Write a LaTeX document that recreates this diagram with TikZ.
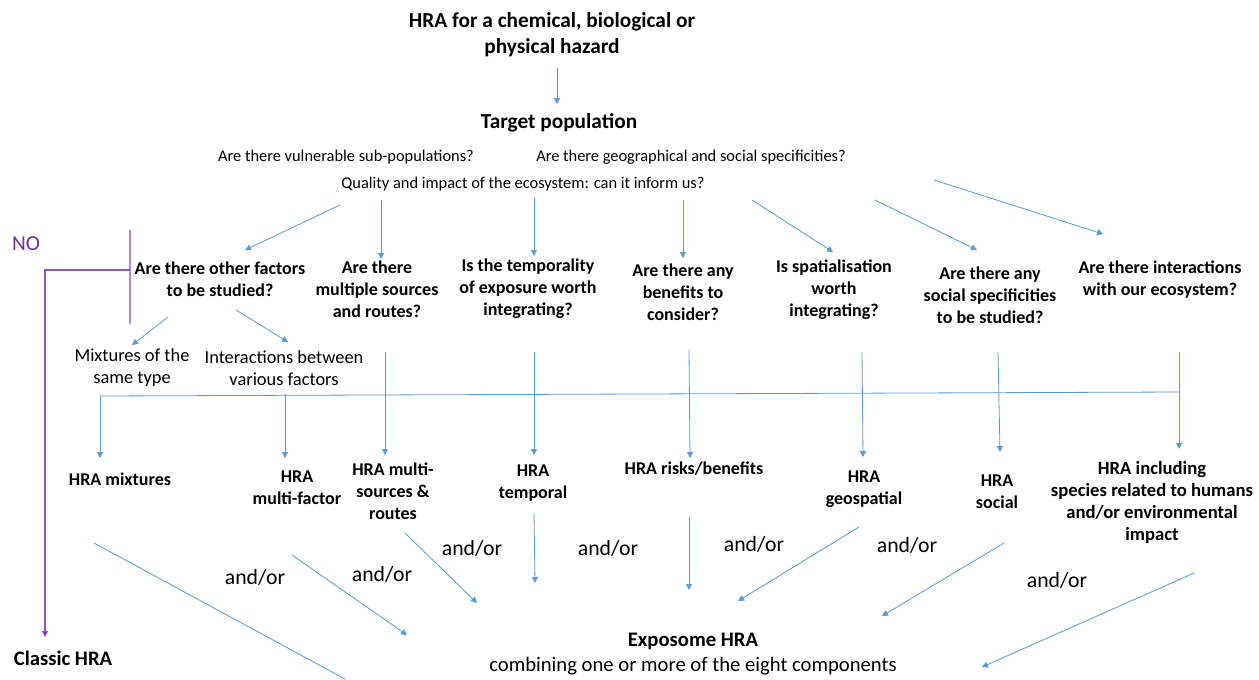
\documentclass[tikz,border=0pt]{standalone}
\usepackage{fontspec}
\setmainfont{Carlito}
\usetikzlibrary{arrows.meta}
\definecolor{arrc}{HTML}{5B9BD5}
\definecolor{purp}{HTML}{7030A0}
\definecolor{purpm}{HTML}{8E55C4}
\definecolor{purpl}{HTML}{B48AD6}
\begin{document}
\begin{tikzpicture}[x=0.75pt,y=-0.75pt,
 every node/.style={inner sep=0pt, align=center, text=black},
 ttl/.style={font=\fontsize{16}{19.5}\selectfont\bfseries},
 qq/.style={font=\fontsize{13.5}{16.5}\selectfont\bfseries},
 sm/.style={font=\fontsize{12.3}{14}\selectfont},
 sub/.style={font=\fontsize{13.8}{16.5}\selectfont},
 andor/.style={font=\fontsize{16.3}{19}\selectfont},
 expo/.style={font=\fontsize{15.5}{19}\selectfont},
 tip/.style={-{Triangle[width=4.5pt,length=4.5pt]}},
 ln/.style={draw=arrc, line width=0.6pt},
 arw/.style={ln, tip},
]
\useasboundingbox (0,0) rectangle (1259,679);

% ---------- texts ----------
\node[ttl] (title) at (552,35) {HRA for a chemical, biological or\\physical hazard};
\node[ttl] (target) at (559,123) {Target population};
\node[sm] (vuln) at (346,157) {Are there vulnerable sub-populations?};
\node[sm] (geo) at (691,157) {Are there geographical and social specificities?};
\node[sm] (qual) at (523,184) {Quality and impact of the ecosystem: can it inform us?};

\node[qq] (q1) at (220,279) {Are there other factors\\to be studied?};
\node[qq] (q2) at (377,289) {Are there\\multiple sources\\and routes?};
\node[qq] (q3) at (528,289) {Is the temporality\\of exposure worth\\integrating?};
\node[qq] (q4) at (683,292) {Are there any\\benefits to\\consider?};
\node[qq] (q5) at (834,290) {Is spatialisation\\worth\\integrating?};
\node[qq] (q6) at (990,295) {Are there any\\social specificities\\to be studied?};
\node[qq] (q7) at (1160,280) {Are there interactions\\with our ecosystem?};

\node[sub] (mix) at (132,368) {Mixtures of the\\same type};
\node[sub] (inter) at (284,368) {Interactions between\\various factors};

\node[font=\fontsize{16}{19}\selectfont, text=purp] (no) at (26,244) {NO};
\node[font=\fontsize{15.5}{17}\selectfont\bfseries] (classic) at (63,658) {Classic HRA};

\node[qq] (h1) at (120,479) {HRA mixtures};
\node[qq] (h2) at (297,488) {HRA\\multi-factor};
\node[qq] (h3) at (393,491) {HRA multi-\\sources \&\\routes};
\node[qq] (h4) at (533,483) {HRA\\temporal};
\node[qq] (h5) at (694,469) {HRA risks/benefits};
\node[qq] (h6) at (864,489) {HRA\\geospatial};
\node[qq] (h7) at (997,492) {HRA\\social};
\node[font=\fontsize{14}{16.5}\selectfont\bfseries] (h8) at (1152,502) {HRA including\\species related to humans\\and/or environmental\\impact};

\node[andor] (ao1) at (255,577) {and/or};
\node[andor] (ao2) at (382,574) {and/or};
\node[andor] (ao3) at (472,548) {and/or};
\node[andor] (ao4) at (608,548) {and/or};
\node[andor] (ao5) at (754,544) {and/or};
\node[andor] (ao6) at (907,545) {and/or};
\node[andor] (ao7) at (1057,580) {and/or};

\node[font=\fontsize{15.5}{19}\selectfont\bfseries] (expo) at (693,641) {Exposome HRA};
\node[expo] (comb) at (693,666) {combining one or more of the eight components};

% ---------- connector end points ----------
\coordinate (a0s) at (557,68);   \coordinate (a0e) at (557,104);
\coordinate (t1s) at (340,205);  \coordinate (t1e) at (245,250);
\coordinate (t2s) at (381,200);  \coordinate (t2e) at (381,259);
\coordinate (t3s) at (534,198);  \coordinate (t3e) at (534,256);
\coordinate (t4s) at (683,200);  \coordinate (t4e) at (683,258);
\coordinate (t5s) at (752,200);  \coordinate (t5e) at (833,252);
\coordinate (t6s) at (875,200);  \coordinate (t6e) at (977,250);
\coordinate (t7s) at (934,180);  \coordinate (t7e) at (1103,234);

\coordinate (m1s) at (168,317);  \coordinate (m1e) at (132,345);
\coordinate (m2s) at (236,310);  \coordinate (m2e) at (288,342);

\coordinate (v2s) at (385,352);  \coordinate (v2e) at (385,455);
\coordinate (v3s) at (534,352);  \coordinate (v3e) at (534,455);
\coordinate (v4s) at (689,350);  \coordinate (v4e) at (690,458);
\coordinate (v5s) at (862,352);  \coordinate (v5e) at (863,457);
\coordinate (v6s) at (998,352);  \coordinate (v6e) at (1000,452);
\coordinate (v7s) at (1179,352); \coordinate (v7e) at (1179,449);
\coordinate (hr) at (1179,392);  \coordinate (hl) at (100,396);
\coordinate (hle) at (100,458);
\coordinate (hm) at (285,394);   \coordinate (hme) at (285,458);

\coordinate (b1s) at (94,543);   \coordinate (b1e) at (345,679);
\coordinate (b2s) at (292,555);  \coordinate (b2e) at (407,635);
\coordinate (b3s) at (405,533);  \coordinate (b3e) at (477,603);
\coordinate (b4s) at (534,513);  \coordinate (b4e) at (535,583);
\coordinate (b5s) at (689,517);  \coordinate (b5e) at (689,590);
\coordinate (b6s) at (859,527);  \coordinate (b6e) at (738,601);
\coordinate (b7s) at (1004,543); \coordinate (b7e) at (882,616);
\coordinate (b8s) at (1194,573); \coordinate (b8e) at (982,667);

\coordinate (p1) at (130,230);   \coordinate (p2) at (130,324);
\coordinate (p3) at (130,270);   \coordinate (p4) at (45,270);
\coordinate (p5) at (45,637);

% ---------- connectors ----------
\draw[arw] (a0s) -- (a0e);
\foreach \i in {1,...,7} {\draw[arw] (t\i s) -- (t\i e);}
\draw[arw] (m1s) -- (m1e);
\draw[arw] (m2s) -- (m2e);
\foreach \i in {2,...,7} {\draw[arw] (v\i s) -- (v\i e);}
\draw[ln] (hr) -- (hl);
\draw[arw] (hl) -- (hle);
\draw[arw] (hm) -- (hme);
\draw[ln] (b1s) -- (b1e);
\foreach \i in {2,...,8} {\draw[arw] (b\i s) -- (b\i e);}

\draw[draw=purpl, line width=0.8pt] (p1) -- (p2);
\draw[draw=purpm, line width=0.8pt, -{Triangle[width=4.5pt,length=4.5pt,fill=purp]}] (p3) -- (p4) -- (p5);
\end{tikzpicture}
\end{document}
